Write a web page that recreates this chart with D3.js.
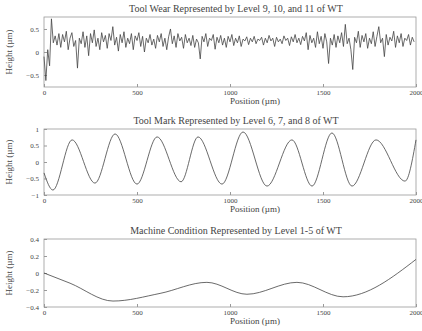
<!DOCTYPE html>
<html><head><meta charset="utf-8">
<script src="https://cdn.jsdelivr.net/npm/d3@7"></script>
<style>body{margin:0;background:#fff}svg{display:block}text{font-family:"Liberation Serif","DejaVu Serif",serif;fill:#444}</style>
</head><body><svg id="c" width="422" height="331"></svg>
<script>
const titles = ["Tool Wear Represented by Level 9, 10, and 11 of WT",
  "Tool Mark Represented by Level 6, 7, and 8 of WT",
  "Machine Condition Represented by Level 1-5 of WT"];
const xTicks = [0, 500, 1000, 1500, 2000];
const yTicks1 = [-0.5, 0, 0.5];
const yTicks2 = [-1, -0.5, 0, 0.5, 1];
const yTicks3 = [-0.4, -0.2, 0, 0.2, 0.4];
// Panel 1: tool wear (position step 10 µm)
const wearValues = [
 -0.1,-0.62,0.05,-0.3,0.72,0.2,0.35,0.15,0.4,0.1,0.38,0.22,0.45,0.05,0.3,0.42,0.12,0.25,-0.35,0.3,
 0.18,0.44,0.1,0.35,-0.08,0.4,0.2,0.48,0.12,0.3,0.05,0.42,0.22,0.36,0.08,0.4,0.25,0.55,0.15,0.32,
 0.02,0.38,0.2,0.44,0.1,0.3,0.18,0.4,0.05,0.35,0.25,0.42,0.12,0.34,0.0,0.3,0.2,0.38,0.15,0.28,
 0.08,0.36,0.22,0.4,0.12,0.3,0.05,0.33,0.5,0.18,0.35,0.1,0.4,0.24,0.32,0.08,0.38,0.2,0.3,0.14,
 0.36,0.1,0.28,0.2,-0.15,0.34,0.22,0.4,0.12,0.3,0.25,0.38,0.06,0.32,0.2,0.36,0.15,0.3,0.1,0.34,
 0.22,0.38,0.14,0.3,0.2,0.35,0.12,0.28,0.24,0.33,0.16,0.3,0.22,0.34,0.18,0.28,0.25,0.32,0.15,0.3,
 0.2,0.36,0.24,0.3,0.12,0.32,0.22,0.28,0.18,0.35,0.25,0.3,0.14,0.33,0.22,0.38,0.2,0.3,0.16,0.34,
 0.24,0.42,0.05,0.36,0.2,0.3,0.1,0.44,0.18,0.34,0.08,0.4,0.22,-0.25,0.3,0.15,0.38,0.1,0.35,0.2,
 0.42,0.12,0.6,0.18,0.3,0.05,-0.38,0.32,0.2,0.45,0.1,0.36,0.22,0.4,0.08,0.3,0.18,0.44,0.12,0.34,
 0.55,0.2,0.3,-0.1,0.38,0.15,0.32,0.24,0.45,0.1,0.35,0.2,0.4,0.12,0.3,0.25,0.38,0.15,0.32,0.22];
const wearStep = 10;
// Panel 2: tool mark key points
const markPos = [0,48,151,274,382,500,608,737,828,957,1070,1199,1333,1441,1548,1656,1785,1941,2000];
const markVal = [-0.33,-0.85,0.67,-0.64,0.85,-0.67,0.76,-0.6,0.76,-0.67,0.91,-0.73,0.67,-0.73,0.88,-0.73,0.67,-0.58,0.67];
// Panel 3: machine condition key points
const condPos = [0,140,371,624,876,1091,1360,1608,2000];
const condVal = [0.0,-0.12,-0.33,-0.24,-0.11,-0.25,-0.11,-0.28,0.16];

const svg = d3.select("#c");
const L = 44, R = 416;
const panels = [
  {title: titles[0], top: 17, bottom: 87, yd: [-0.76, 0.76], yt: yTicks1,
   data: wearValues.map((v, i) => [i * wearStep, v]), curve: d3.curveLinear},
  {title: titles[1], top: 129, bottom: 195, yd: [-1, 1], yt: yTicks2,
   data: markPos.map((p, i) => [p, markVal[i]]), curve: d3.curveMonotoneX},
  {title: titles[2], top: 239, bottom: 307, yd: [-0.4, 0.4], yt: yTicks3,
   data: condPos.map((p, i) => [p, condVal[i]]), curve: d3.curveMonotoneX}
];
panels.forEach(p => {
  const x = d3.scaleLinear().domain([0, 2000]).range([L, R]);
  const y = d3.scaleLinear().domain(p.yd).range([p.bottom, p.top]);
  const g = svg.append("g");
  g.append("rect").attr("x", L).attr("y", p.top).attr("width", R - L).attr("height", p.bottom - p.top)
    .attr("fill", "none").attr("stroke", "#999").attr("stroke-width", 0.8);
  const xa = g.append("g").attr("transform", `translate(0,${p.bottom})`)
    .call(d3.axisBottom(x).tickValues(xTicks).tickSize(-3).tickPadding(3).tickFormat(d3.format("d")));
  const ya = g.append("g").attr("transform", `translate(${L},0)`)
    .call(d3.axisLeft(y).tickValues(p.yt).tickSize(-3).tickPadding(5).tickFormat(d3.format("")));
  [xa, ya].forEach(a => {
    a.select(".domain").remove();
    a.selectAll("line").attr("stroke", "#999");
    a.selectAll("text").attr("font-size", 7).attr("fill", "#888").attr("font-family", "Liberation Serif");
  });
  g.append("path").datum(p.data)
    .attr("d", d3.line().x(d => x(d[0])).y(d => y(d[1])).curve(p.curve))
    .attr("fill", "none").attr("stroke", "#444").attr("stroke-width", 0.8);
  g.append("text").attr("x", 236).attr("y", p.top - 5).attr("text-anchor", "middle")
    .attr("font-size", 10).attr("fill", "#555").text(p.title);
  g.append("text").attr("x", 255).attr("y", p.bottom + 17).attr("text-anchor", "middle")
    .attr("font-size", 9).attr("fill", "#555").text("Position (µm)");
  g.append("text").attr("transform", `translate(12,${(p.top + p.bottom) / 2}) rotate(-90)`)
    .attr("text-anchor", "middle").attr("font-size", 9).attr("fill", "#555").text("Height (µm)");
});
</script></body></html>
